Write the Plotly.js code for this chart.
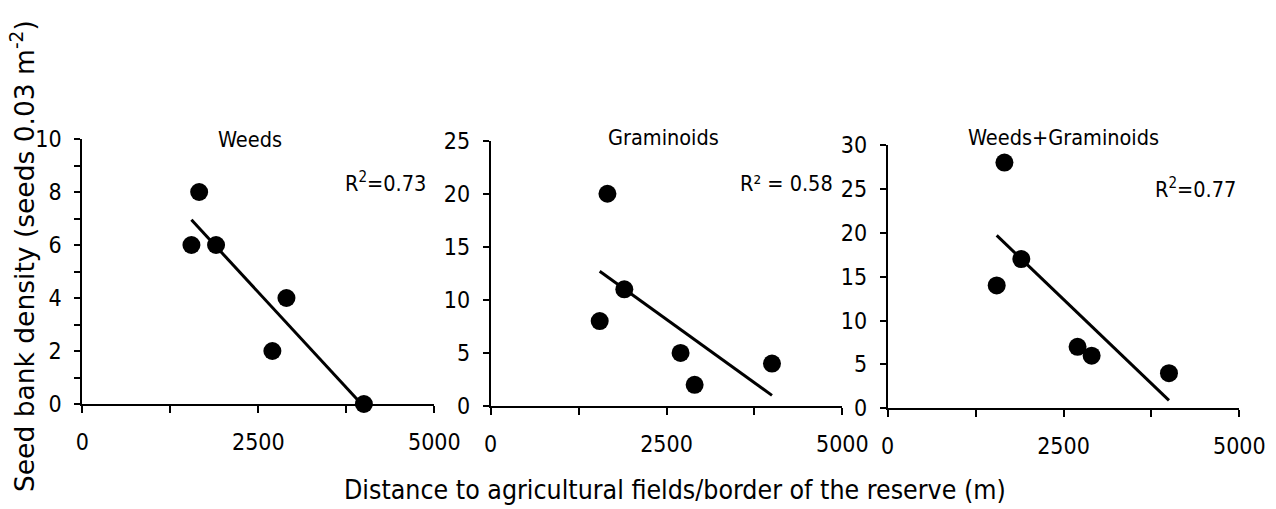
<!DOCTYPE html>
<html>
<head>
<meta charset="utf-8">
<script src="https://cdn.plot.ly/plotly-3.0.1.min.js"></script>
<style>html,body{margin:0;padding:0;background:#fff;}#chart{width:1276px;height:509px;}</style>
</head>
<body>
<div id="chart"></div>
<script>
// Data
const distance = [1550, 1660, 1900, 2700, 2900, 4000];
const weeds = [6, 8, 6, 2, 4, 0];
const graminoids = [8, 20, 11, 5, 2, 4];
const combined = [14, 28, 17, 7, 6, 4];

// Trend line endpoints (as drawn)
const trendX = [1550, 4000];
const weedsTrend = [6.95, -0.1];
const graminoidsTrend = [12.7, 1.0];
const combinedTrend = [19.7, 0.9];

const panelTitles = ["Weeds", "Graminoids", "Weeds+Graminoids"];
const r2Labels = ["R<sup>2</sup>=0.73", "R\u00B2 = 0.58", "R<sup>2</sup>=0.77"];
const xTitle = "Distance to agricultural fields/border of the reserve (m)";
const yTitle = "Seed bank density (seeds 0.03 m<sup>-2</sup>)";

const W = 1276, H = 509;
const px = v => v / W;
const py = v => 1 - v / H;

const tickFamily = '"DejaVu Sans Condensed", "DejaVu Sans", sans-serif';
const tickFont = {family: tickFamily, size: 23, color: '#000'};

function scatter(y, xa, ya) {
  return {x: distance, y: y, xaxis: xa, yaxis: ya, type: 'scatter', mode: 'markers',
    marker: {color: '#000', size: 18}, cliponaxis: false, hoverinfo: 'skip', showlegend: false};
}
function trend(y, xa, ya) {
  return {x: trendX, y: y, xaxis: xa, yaxis: ya, type: 'scatter', mode: 'lines',
    line: {color: '#000', width: 3}, cliponaxis: false, hoverinfo: 'skip', showlegend: false};
}

const data = [
  trend(weedsTrend, 'x', 'y'), scatter(weeds, 'x', 'y'),
  trend(graminoidsTrend, 'x2', 'y2'), scatter(graminoids, 'x2', 'y2'),
  trend(combinedTrend, 'x3', 'y3'), scatter(combined, 'x3', 'y3')
];

function xaxis(domain, anchor) {
  return {domain: domain, anchor: anchor, range: [0, 5000], dtick: 2500, tick0: 0,
    showgrid: false, zeroline: false, showline: true, linecolor: '#000', linewidth: 2,
    ticks: 'outside', ticklen: 7, tickwidth: 2, tickcolor: '#000', tickfont: tickFont,
    ticklabelstandoff: 9, fixedrange: true,
    minor: {dtick: 1250, tick0: 0, ticks: 'outside', ticklen: 7, tickwidth: 2, tickcolor: '#000', showgrid: false}};
}
function yaxis(domain, anchor, max, dtick, minorDtick) {
  const a = {domain: domain, anchor: anchor, range: [0, max], dtick: dtick, tick0: 0,
    showgrid: false, zeroline: false, showline: true, linecolor: '#000', linewidth: 2,
    ticks: 'outside', ticklen: 6, tickwidth: 2, tickcolor: '#000', tickfont: tickFont,
    ticklabelstandoff: 8, fixedrange: true};
  if (minorDtick) a.minor = {dtick: minorDtick, tick0: 0, ticks: 'outside', ticklen: 6, tickwidth: 2, tickcolor: '#000', showgrid: false};
  return a;
}

const annFont = {family: tickFamily, size: 21.5, color: '#000'};
const annotations = [
  {text: panelTitles[0], x: px(250), y: py(139)},
  {text: panelTitles[1], x: px(663), y: py(137)},
  {text: panelTitles[2], x: px(1063), y: py(137)},
  {text: r2Labels[0], x: px(385), y: py(182)},
  {text: r2Labels[1], x: px(786), y: py(183)},
  {text: r2Labels[2], x: px(1195), y: py(188)}
].map(a => Object.assign({xref: 'paper', yref: 'paper', showarrow: false, xanchor: 'center', yanchor: 'middle', font: annFont}, a));

annotations.push({text: xTitle, xref: 'paper', yref: 'paper', x: px(675), y: py(489), showarrow: false,
  xanchor: 'center', yanchor: 'middle', font: {family: tickFamily, size: 26.5, color: '#000'}});
annotations.push({text: yTitle, xref: 'paper', yref: 'paper', x: px(23), y: py(256), showarrow: false,
  textangle: -90, xanchor: 'center', yanchor: 'middle', font: {family: '"DejaVu Sans", sans-serif', size: 26.5, color: '#000'}});

const layout = {
  width: W, height: H,
  margin: {l: 0, r: 0, t: 0, b: 0},
  paper_bgcolor: '#fff', plot_bgcolor: '#fff',
  showlegend: false,
  xaxis: xaxis([px(82.3), px(434.3)], 'y'),
  yaxis: yaxis([py(404), py(139)], 'x', 10, 2, 1),
  xaxis2: xaxis([px(490.7), px(842.3)], 'y2'),
  yaxis2: yaxis([py(406), py(140.7)], 'x2', 25, 5, null),
  xaxis3: xaxis([px(887.7), px(1239.3)], 'y3'),
  yaxis3: yaxis([py(408.3), py(145)], 'x3', 30, 5, null),
  annotations: annotations
};

Plotly.newPlot('chart', data, layout, {displayModeBar: false, staticPlot: true});
</script>
</body>
</html>
